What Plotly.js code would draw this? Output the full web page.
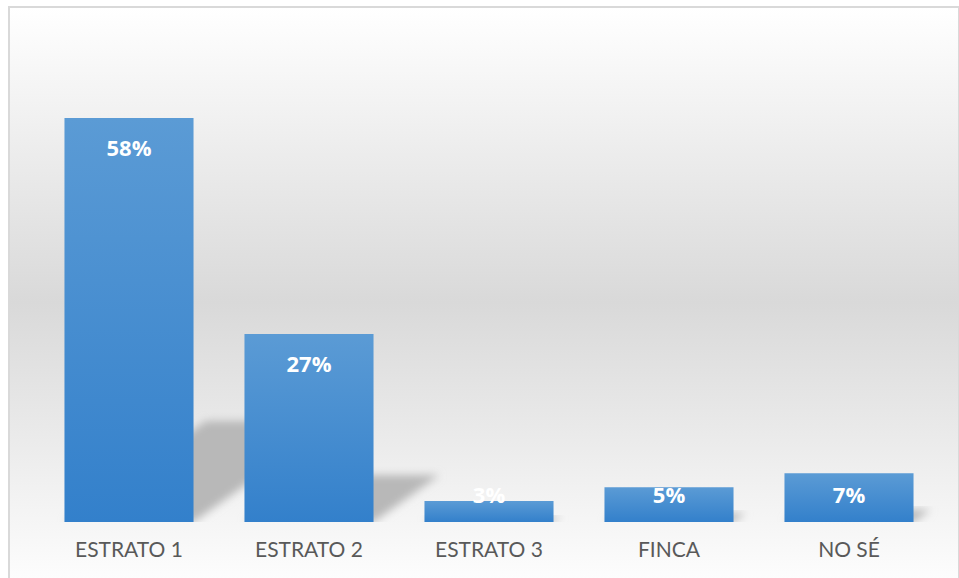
<!DOCTYPE html>
<html>
<head>
<meta charset="utf-8">
<script src="https://cdn.plot.ly/plotly-3.0.1.min.js"></script>
<style>
  html, body { margin: 0; padding: 0; background: #ffffff; overflow: hidden; }
  #bg {
    position: absolute; left: 8px; top: 6px; width: 948px; height: 588px;
    border: 2px solid #d9d9d9; border-bottom: none;
    background: linear-gradient(to bottom, #ffffff 0%, #d9d9d9 50%, #ffffff 100%);
  }
  #chart { position: absolute; left: 0; top: 0; width: 959px; height: 578px; }
</style>
</head>
<body>
<div id="bg"></div>
<div id="chart"></div>
<script>
// ---- data ----
const categories = ["ESTRATO 1", "ESTRATO 2", "ESTRATO 3", "FINCA", "NO SÉ"];
const percentValues = [58, 27, 3, 5, 7];
const valueLabels = percentValues.map(v => v + "%");

// ---- derived helpers ----
const xIdx = categories.map((c, i) => i);
const barWidth = 0.717;
const halfW = barWidth / 2;

// perspective shadows (computed from the values)
const shadowShapes = percentValues.map((v, i) => {
  const h = 0.25 * v;
  const dx = h * 0.0542;
  const p = [
    [i - halfW, 0], [i + halfW, 0],
    [i + halfW + dx, h], [i - halfW + dx, h]
  ];
  return {
    type: "path", xref: "x", yref: "y", layer: "below",
    path: "M" + p.map(q => q[0] + "," + q[1]).join("L") + "Z",
    fillcolor: "#b8b8b8", line: { width: 0 }
  };
});

const labelY = percentValues.map(v => Math.max(v - 4.73, 3.57));

const traces = [
  {
    type: "bar", x: xIdx, y: percentValues, width: barWidth,
    marker: { color: "#4a8fd2", line: { width: 0 } },
    hoverinfo: "none"
  },
  {
    type: "scatter", mode: "text", x: xIdx, y: labelY,
    text: valueLabels, textposition: "middle center",
    textfont: { family: "Open Sans, sans-serif", size: 22, color: "#ffffff", weight: "bold" },
    hoverinfo: "none", cliponaxis: false
  }
];

const layout = {
  width: 959, height: 578,
  margin: { l: 39, r: 20, t: 104, b: 56, pad: 0 },
  paper_bgcolor: "rgba(0,0,0,0)", plot_bgcolor: "rgba(0,0,0,0)",
  showlegend: false,
  xaxis: {
    range: [-0.5, 4.5], tickmode: "array", tickvals: xIdx, ticktext: categories,
    showgrid: false, zeroline: false, showline: false, ticks: "",
    tickfont: { family: "Lato, sans-serif", size: 21, color: "#595959" },
    ticklabelstandoff: 13, fixedrange: true
  },
  yaxis: {
    range: [0, 60], visible: false, showgrid: false, zeroline: false, fixedrange: true
  },
  shapes: shadowShapes
};

Plotly.newPlot("chart", traces, layout, { staticPlot: true, displayModeBar: false }).then(() => {
  const svg = document.querySelector("#chart .main-svg");
  const ns = "http://www.w3.org/2000/svg";
  let defs = svg.querySelector("defs");
  if (!defs) { defs = document.createElementNS(ns, "defs"); svg.insertBefore(defs, svg.firstChild); }
  const grad = document.createElementNS(ns, "linearGradient");
  grad.setAttribute("id", "barGrad");
  grad.setAttribute("x1", "0"); grad.setAttribute("y1", "0");
  grad.setAttribute("x2", "0"); grad.setAttribute("y2", "1");
  [["0%", "#5b9bd5"], ["100%", "#3380cb"]].forEach(s => {
    const st = document.createElementNS(ns, "stop");
    st.setAttribute("offset", s[0]); st.setAttribute("stop-color", s[1]);
    grad.appendChild(st);
  });
  defs.appendChild(grad);
  const filt = document.createElementNS(ns, "filter");
  filt.setAttribute("id", "shBlur");
  filt.setAttribute("x", "-30%"); filt.setAttribute("y", "-30%");
  filt.setAttribute("width", "160%"); filt.setAttribute("height", "160%");
  const gb = document.createElementNS(ns, "feGaussianBlur");
  gb.setAttribute("stdDeviation", "4.5");
  filt.appendChild(gb);
  defs.appendChild(filt);
  document.querySelectorAll("#chart .barlayer .point path").forEach(p => { p.style.fill = "url(#barGrad)"; });
  document.querySelectorAll("#chart .shapelayer path").forEach(p => { p.setAttribute("filter", "url(#shBlur)"); });
});
</script>
</body>
</html>
